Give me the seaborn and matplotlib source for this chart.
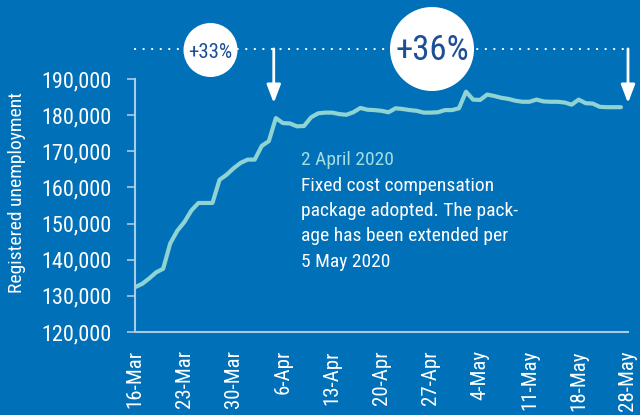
import matplotlib
matplotlib.use("Agg")
import matplotlib.pyplot as plt
from matplotlib import font_manager as fm
from matplotlib.patches import Circle
import seaborn as sns
import pandas as pd

# Registered unemployment, daily from 16 March 2020
unemployment = [
    132400, 133300, 134800, 136500, 137500, 144500, 148000, 150400, 153600, 155700,
    155700, 155700, 162100, 163500, 165300, 166800, 167700, 167700, 171500, 172800,
    179200, 177800, 177700, 176900, 177000, 179400, 180500, 180700, 180700, 180300,
    180100, 180800, 182000, 181500, 181400, 181200, 180800, 181900, 181700, 181400,
    181200, 180700, 180700, 180800, 181400, 181400, 181900, 186500, 184300, 184200,
    185700, 185300, 184800, 184500, 184000, 183700, 183700, 184300, 183800, 183700,
    183700, 183500, 182900, 184300, 183300, 183200, 182300, 182200, 182200, 182200,
]
day = list(range(len(unemployment)))

tick_days = [0, 7, 14, 21, 28, 35, 42, 49, 56, 63, 70]
tick_labels = ["16-Mar", "23-Mar", "30-Mar", "6-Apr", "13-Apr", "20-Apr",
               "27-Apr", "4-May", "11-May", "18-May", "28-May"]
y_ticks = [120000, 130000, 140000, 150000, 160000, 170000, 180000, 190000]

package_day = 19.7      # fixed cost compensation package adopted
end_day = 70
gain_first = "+33%"
gain_second = "+36%"

BG = "#0070b8"
LINE = "#8fd3d2"
AXIS = "#a9cbe8"
CIRCLE_TEXT = "#1c4f93"

# pick a narrow sans-serif if one is installed
installed = {f.name for f in fm.fontManager.ttflist}
narrow_candidates = ["Roboto Condensed", "Liberation Sans Narrow", "Arial Narrow",
                     "Noto Sans Condensed", "DejaVu Sans Condensed",
                     "Open Sans Condensed", "Nimbus Sans Narrow"]
narrow = next((n for n in narrow_candidates if n in installed), None)
stretch = "normal"
if narrow is None:
    cond = [f for f in fm.fontManager.ttflist
            if f.name in ("Noto Sans", "DejaVu Sans", "Open Sans", "Roboto")
            and str(f.stretch) in ("condensed", "semi-condensed", "extra-condensed", "75", "87")]
    if cond:
        narrow = cond[0].name
        stretch = cond[0].stretch
    else:
        narrow = "Roboto" if "Roboto" in installed else "DejaVu Sans"
FONT = [narrow, "DejaVu Sans"]
scale = 1.0 if narrow != "Roboto" else 0.92
FS_TEXT = 14 * scale
FS_YTICK = 16 * scale
FS_XTICK = 15 * scale
FS_YLABEL = 14 * scale

sns.set_theme(style="ticks")
plt.rcParams["font.family"] = FONT
plt.rcParams["font.stretch"] = stretch

df = pd.DataFrame({"day": day, "unemployment": unemployment})

fig = plt.figure(figsize=(6.4, 4.15), dpi=100, facecolor=BG)
ax = fig.add_axes([135 / 640, 83 / 415, 493 / 640, 253 / 415])
ax.set_facecolor(BG)

sns.lineplot(data=df, x="day", y="unemployment", ax=ax, color=LINE,
             linewidth=3, solid_joinstyle="round", solid_capstyle="round")

ax.set_xlim(0, 70)
ax.set_ylim(120000, 190000)
ax.set_xticks(tick_days)
ax.set_xticklabels(tick_labels, rotation=90, fontsize=FS_XTICK, color="white")
ax.set_yticks(y_ticks)
ax.set_yticklabels([f"{v:,}" for v in y_ticks], fontsize=FS_YTICK, color="white")
ax.tick_params(axis="x", length=0, pad=13)
ax.tick_params(axis="y", length=6, width=1.2, color=AXIS, pad=11)
for s in ["top", "right"]:
    ax.spines[s].set_visible(False)
for s in ["left", "bottom"]:
    ax.spines[s].set_color(AXIS)
    ax.spines[s].set_linewidth(1.5)

ax.set_xlabel("")
ax.set_ylabel("Registered unemployment", fontsize=FS_YLABEL, color="white")
ax.yaxis.set_label_coords(-0.222, 0.55)

# dotted reference line above the plot
dot_y = 1.119
ax.plot([0, end_day], [dot_y, dot_y], transform=ax.get_xaxis_transform(),
        color="white", linewidth=1.6, linestyle=(0, (0.05, 3.8)),
        dash_capstyle="round", clip_on=False, zorder=5)

# arrows down to the package date and to the end of the period
for xd in (package_day, end_day):
    ax.annotate("", xy=(xd, 0.905), xycoords=ax.get_xaxis_transform(),
                xytext=(xd, dot_y), textcoords=ax.get_xaxis_transform(),
                arrowprops=dict(arrowstyle="-|>,head_length=1.1,head_width=0.42",
                                color="white", lw=2, shrinkA=0, shrinkB=0,
                                mutation_scale=10),
                annotation_clip=False, zorder=6)

# percentage bubbles
for cx, cy, r, label, size in [(2.105, 3.65, 0.27, gain_first, 15 * scale),
                               (4.32, 3.66, 0.42, gain_second, 25 * scale)]:
    circ = Circle((cx, cy), r, transform=fig.dpi_scale_trans,
                  facecolor="white", edgecolor="none", zorder=7, clip_on=False)
    fig.patches.append(circ)
    fig.text(cx / 6.4, (cy - 0.02) / 4.15, label, ha="center", va="center",
             fontsize=size, color=CIRCLE_TEXT, zorder=8)

# event annotation
text_x = 166 / 493
ax.text(text_x, (332 - 165) / 253, "2 April 2020", transform=ax.transAxes,
        fontsize=FS_TEXT, color="#a6dde0", va="baseline", ha="left")
body = ["Fixed cost compensation", "package adopted. The pack-",
        "age has been extended per", "5 May 2020"]
for line, base in zip(body, [191, 216, 241, 267]):
    ax.text(text_x, (332 - base) / 253, line, transform=ax.transAxes,
            fontsize=FS_TEXT, color="white", va="baseline", ha="left")

fig.savefig("out.png", dpi=100, facecolor=BG)
